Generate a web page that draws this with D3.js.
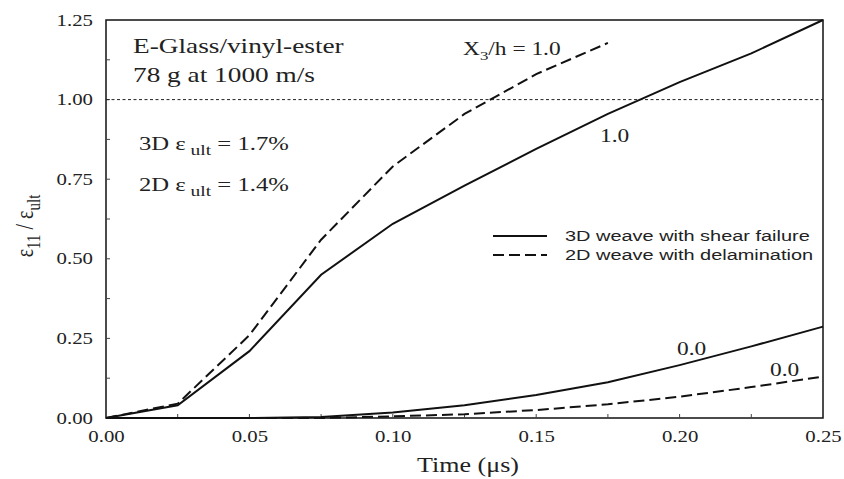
<!DOCTYPE html>
<html><head><meta charset="utf-8">
<script src="https://cdn.jsdelivr.net/npm/d3@7"></script>
<style>body{margin:0;background:#fff}</style>
</head><body>
<svg id="c" width="844" height="479"></svg>
<script>
const time = [0, 0.025, 0.05, 0.075, 0.1, 0.125, 0.15, 0.175, 0.2, 0.225, 0.25];
const solid3D_top = [0, 0.04, 0.21, 0.45, 0.61, 0.73, 0.845, 0.955, 1.055, 1.145, 1.25];
const dashed2D_top = [0, 0.045, 0.26, 0.56, 0.79, 0.955, 1.08, 1.178];
const solid3D_bot = [0, 0, 0, 0.003, 0.017, 0.04, 0.072, 0.112, 0.166, 0.225, 0.287];
const dashed2D_bot = [0, 0, 0, 0, 0.005, 0.012, 0.025, 0.043, 0.067, 0.097, 0.13];
const xTicks = [0, 0.05, 0.10, 0.15, 0.20, 0.25];
const yTicks = [0, 0.25, 0.50, 0.75, 1.00, 1.25];

const svg = d3.select("#c");
const L = 106, R = 823, T = 20, B = 418;
const SX = 1.3; // horizontal stretch of the original glyphs
const x = d3.scaleLinear().domain([0, 0.25]).range([L, R]);
const y = d3.scaleLinear().domain([0, 1.25]).range([B, T]);
const serif = "'Liberation Serif','Times New Roman',serif";
const sans = "'Liberation Sans',Arial,sans-serif";

// frame
svg.append("rect").attr("x", L).attr("y", T).attr("width", R - L).attr("height", B - T)
  .attr("fill", "none").attr("stroke", "#111").attr("stroke-width", 1.5);

// axes
const xAx = svg.append("g").attr("transform", `translate(0,${B})`)
  .call(d3.axisBottom(x).tickValues(xTicks).tickFormat(d3.format(".2f")).tickSize(0).tickPadding(13));
xAx.select(".domain").remove();
xAx.selectAll("text").attr("font-family", serif).attr("font-size", 16).attr("fill", "#222")
  .attr("transform", `scale(${SX},1)`);
const yAx = svg.append("g").attr("transform", `translate(${L},0)`)
  .call(d3.axisLeft(y).tickValues(yTicks).tickFormat(d3.format(".2f")).tickSize(0));
yAx.select(".domain").remove();
yAx.selectAll("text").attr("font-family", serif).attr("font-size", 16).attr("fill", "#222")
  .attr("x", 0).attr("transform", `translate(-13,0) scale(${SX},1)`);

// inward minor ticks
const xMinor = d3.range(0.025, 0.25, 0.025);
svg.append("g").selectAll("line").data(xMinor).join("line")
  .attr("x1", d => x(d)).attr("x2", d => x(d)).attr("y1", B).attr("y2", B - 4)
  .attr("stroke", "#444").attr("stroke-width", 1);
const yMinor = d3.range(0.125, 1.25, 0.125);
svg.append("g").selectAll("line").data(yMinor).join("line")
  .attr("x1", L).attr("x2", L + 4).attr("y1", d => y(d)).attr("y2", d => y(d))
  .attr("stroke", "#444").attr("stroke-width", 1);

// reference line at 1.0
svg.append("line").attr("x1", L).attr("x2", R).attr("y1", y(1)).attr("y2", y(1))
  .attr("stroke", "#222").attr("stroke-width", 1).attr("stroke-dasharray", "3,2.5");

const line = d3.line().x((d, i) => x(time[i])).y(d => y(d));
const series = [
  {v: solid3D_top, dash: null},
  {v: dashed2D_top, dash: "11,5"},
  {v: solid3D_bot, dash: null},
  {v: dashed2D_bot, dash: "11,5"}
];
svg.append("g").selectAll("path").data(series).join("path")
  .attr("d", d => line(d.v)).attr("fill", "none").attr("stroke", "#111")
  .attr("stroke-width", 2).attr("stroke-dasharray", d => d.dash);

// text helper: positioned, horizontally stretched
function tx(px, py, size, fam, anchor, sx) {
  return svg.append("text").attr("transform", `translate(${px},${py}) scale(${sx || SX},1)`)
    .attr("font-size", size).attr("font-family", fam || serif).attr("fill", "#222")
    .attr("text-anchor", anchor || "start");
}
tx(133, 53, 21).text("E-Glass/vinyl-ester");
tx(133, 82, 21).text("78 g at 1000 m/s");

function eps(t1, t2, py) {
  const e = tx(139, py, 19);
  e.append("tspan").text(t1);
  e.append("tspan").attr("dy", 5).attr("font-size", 15).text(" ult");
  e.append("tspan").attr("dy", -5).text(t2);
}
eps("3D ε", " = 1.7%", 150);
eps("2D ε", " = 1.4%", 191);

const xh = tx(463, 55, 18);
xh.append("tspan").text("X");
xh.append("tspan").attr("dy", 5).attr("font-size", 13).text("3");
xh.append("tspan").attr("dy", -5).text("/h = 1.0");

tx(600, 142, 18).text("1.0");
tx(677, 355, 18).text("0.0");
tx(770, 376, 18).text("0.0");

// legend
svg.append("line").attr("x1", 493).attr("x2", 547).attr("y1", 236).attr("y2", 236).attr("stroke", "#111").attr("stroke-width", 2);
svg.append("line").attr("x1", 493).attr("x2", 547).attr("y1", 255).attr("y2", 255).attr("stroke", "#111").attr("stroke-width", 2).attr("stroke-dasharray", "11,5");
tx(565, 241, 15, sans, "start", 1.33).text("3D weave with shear failure");
tx(565, 260, 15, sans, "start", 1.33).text("2D weave with delamination");

// axis titles
tx(468, 472, 20, serif, "middle").text("Time (μs)");
const yl = svg.append("text").attr("transform", `translate(33,226) scale(${SX},1) rotate(-90)`).attr("text-anchor", "middle")
  .attr("font-size", 20).attr("font-family", serif).attr("fill", "#222");
yl.append("tspan").text("ε");
yl.append("tspan").attr("dy", 5).attr("font-size", 15).text("11");
yl.append("tspan").attr("dy", -5).text(" / ε");
yl.append("tspan").attr("dy", 5).attr("font-size", 15).text("ult");
</script>
</body></html>
